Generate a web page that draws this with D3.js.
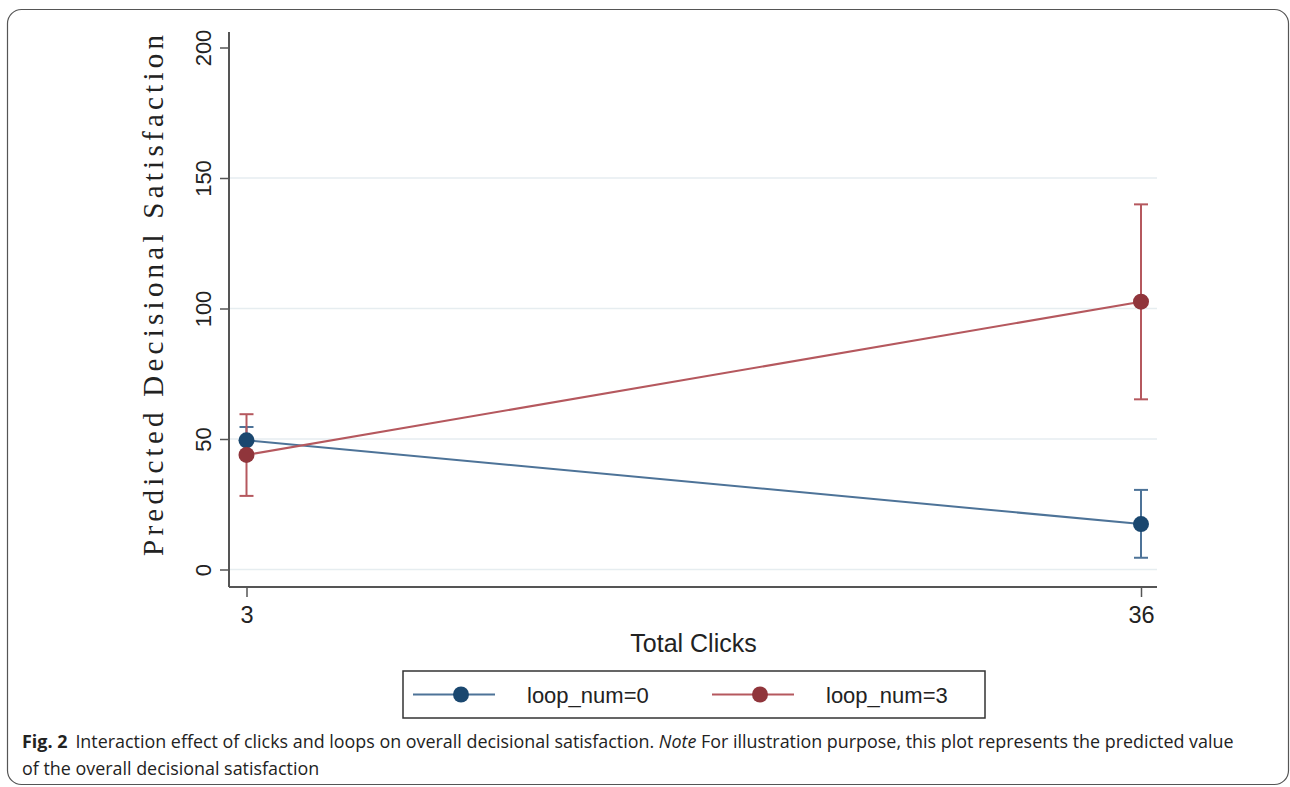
<!DOCTYPE html>
<html>
<head>
<meta charset="utf-8">
<script src="https://cdn.jsdelivr.net/npm/d3@7"></script>
<style>
  html, body { margin: 0; padding: 0; background: #fff; }
  svg { display: block; }
</style>
</head>
<body>
<svg id="chart" width="1290" height="787"></svg>
<script>
// Predicted margins with 95% CIs
const clicks = [3, 36];
const seriesNames = ["loop_num=0", "loop_num=3"];
const predLoop0 = [49.5, 17.4];
const lowLoop0 = [44.4, 4.5];
const highLoop0 = [54.6, 30.5];
const predLoop3 = [43.9, 102.6];
const lowLoop3 = [28.2, 65.2];
const highLoop3 = [59.5, 139.9];
const yTicks = [0, 50, 100, 150, 200];
const xTicks = [3, 36];

const markerColors = ["#1a476f", "#90353b"];
const lineColors = ["#4d7398", "#b5585e"];

const series = [
  { name: seriesNames[0], pred: predLoop0, lo: lowLoop0, hi: highLoop0 },
  { name: seriesNames[1], pred: predLoop3, lo: lowLoop3, hi: highLoop3 }
];

const svg = d3.select("#chart");

// outer frame
svg.append("rect")
  .attr("x", 7.5).attr("y", 9.5).attr("width", 1281).attr("height", 775)
  .attr("rx", 14).attr("ry", 14)
  .attr("fill", "none").attr("stroke", "#555").attr("stroke-width", 1.2);

const x = d3.scaleLinear().domain([3, 36]).range([246.5, 1141]);
const y = d3.scaleLinear().domain([0, 200]).range([569.5, 47.5]);

const plotLeft = 229, plotRight = 1157, plotBottom = 587, plotTop = 32;

// gridlines
svg.append("g")
  .selectAll("line")
  .data(yTicks.filter(t => t < 200))
  .join("line")
  .attr("x1", plotLeft).attr("x2", plotRight)
  .attr("y1", d => y(d)).attr("y2", d => y(d))
  .attr("stroke", "#e6edf0").attr("stroke-width", 1.5);

// y axis
const yAxis = d3.axisLeft(y).tickValues(yTicks).tickSize(9).tickSizeOuter(0);
const gy = svg.append("g").attr("transform", `translate(${plotLeft},0)`).call(yAxis);
gy.select(".domain").remove();
gy.append("line").attr("x1", 0).attr("x2", 0).attr("y1", plotTop).attr("y2", plotBottom)
  .attr("stroke", "#555").attr("stroke-width", 2);
gy.selectAll(".tick line").attr("stroke", "#555").attr("stroke-width", 1.5);
gy.selectAll(".tick text")
  .attr("font-family", "Liberation Sans, Arial, sans-serif")
  .attr("font-size", 22).attr("fill", "#222")
  .attr("text-anchor", "middle")
  .attr("x", 0).attr("y", 0)
  .attr("dy", "0.35em")
  .attr("transform", "translate(-26,0) rotate(-90)");

// x axis
const xAxis = d3.axisBottom(x).tickValues(xTicks).tickSize(10).tickPadding(9).tickSizeOuter(0);
const gx = svg.append("g").attr("transform", `translate(0,${plotBottom})`).call(xAxis);
gx.select(".domain").remove();
gx.append("line").attr("x1", plotLeft).attr("x2", plotRight).attr("y1", 0).attr("y2", 0)
  .attr("stroke", "#555").attr("stroke-width", 2);
gx.selectAll(".tick line").attr("stroke", "#555").attr("stroke-width", 1.5);
gx.selectAll(".tick text")
  .attr("font-family", "Liberation Sans, Arial, sans-serif")
  .attr("font-size", 23.5).attr("fill", "#222");

// axis titles
svg.append("text")
  .attr("transform", `translate(163,${(35 + 556) / 2}) rotate(-90)`)
  .attr("text-anchor", "middle")
  .attr("font-family", "Liberation Serif, Times New Roman, serif")
  .attr("font-size", 29).attr("fill", "#222")
  .attr("textLength", 521).attr("lengthAdjust", "spacing")
  .text("Predicted Decisional Satisfaction");

svg.append("text")
  .attr("x", 693.5).attr("y", 652)
  .attr("text-anchor", "middle")
  .attr("font-family", "Liberation Sans, Arial, sans-serif")
  .attr("font-size", 25).attr("fill", "#222")
  .text("Total Clicks");

// series
const line = d3.line().x((d, i) => x(clicks[i])).y(d => y(d));
series.forEach((s, k) => {
  const g = svg.append("g");
  g.append("path").attr("d", line(s.pred))
    .attr("fill", "none").attr("stroke", lineColors[k]).attr("stroke-width", 2);
  clicks.forEach((c, i) => {
    g.append("line").attr("x1", x(c)).attr("x2", x(c))
      .attr("y1", y(s.lo[i])).attr("y2", y(s.hi[i]))
      .attr("stroke", lineColors[k]).attr("stroke-width", 2);
    [s.lo[i], s.hi[i]].forEach(v => {
      g.append("line").attr("x1", x(c) - 7).attr("x2", x(c) + 7)
        .attr("y1", y(v)).attr("y2", y(v))
        .attr("stroke", lineColors[k]).attr("stroke-width", 2);
    });
  });
});
series.forEach((s, k) => {
  svg.append("g").selectAll("circle").data(s.pred).join("circle")
    .attr("cx", (d, i) => x(clicks[i])).attr("cy", d => y(d)).attr("r", 8)
    .attr("fill", markerColors[k]);
});

// legend
const lg = svg.append("g");
lg.append("rect").attr("x", 403).attr("y", 671).attr("width", 582).attr("height", 47)
  .attr("fill", "#fff").attr("stroke", "#333").attr("stroke-width", 1.5);
const legendX = [413, 712];
seriesNames.forEach((n, k) => {
  const lx = legendX[k];
  lg.append("line").attr("x1", lx).attr("x2", lx + 82).attr("y1", 694.5).attr("y2", 694.5)
    .attr("stroke", lineColors[k]).attr("stroke-width", 2);
  lg.append("circle").attr("cx", lx + 48).attr("cy", 694.5).attr("r", 8)
    .attr("fill", markerColors[k]);
  lg.append("text").attr("x", lx + 114).attr("y", 702.5)
    .attr("font-family", "Liberation Sans, Arial, sans-serif")
    .attr("font-size", 22).attr("fill", "#222")
    .text(n);
});

// caption
const cap = svg.append("text")
  .attr("x", 22).attr("y", 748)
  .attr("font-family", "Open Sans, Noto Sans, sans-serif")
  .attr("font-size", 17.9).attr("fill", "#222");
cap.append("tspan").attr("font-weight", "bold").text("Fig. 2");
cap.append("tspan").attr("dx", 8).text("Interaction effect of clicks and loops on overall decisional satisfaction. ");
cap.append("tspan").attr("font-style", "italic").text("Note");
cap.append("tspan").text(" For illustration purpose, this plot represents the predicted value");
svg.append("text")
  .attr("x", 22).attr("y", 775)
  .attr("font-family", "Open Sans, Noto Sans, sans-serif")
  .attr("font-size", 17.9).attr("fill", "#222")
  .text("of the overall decisional satisfaction");
</script>
</body>
</html>
